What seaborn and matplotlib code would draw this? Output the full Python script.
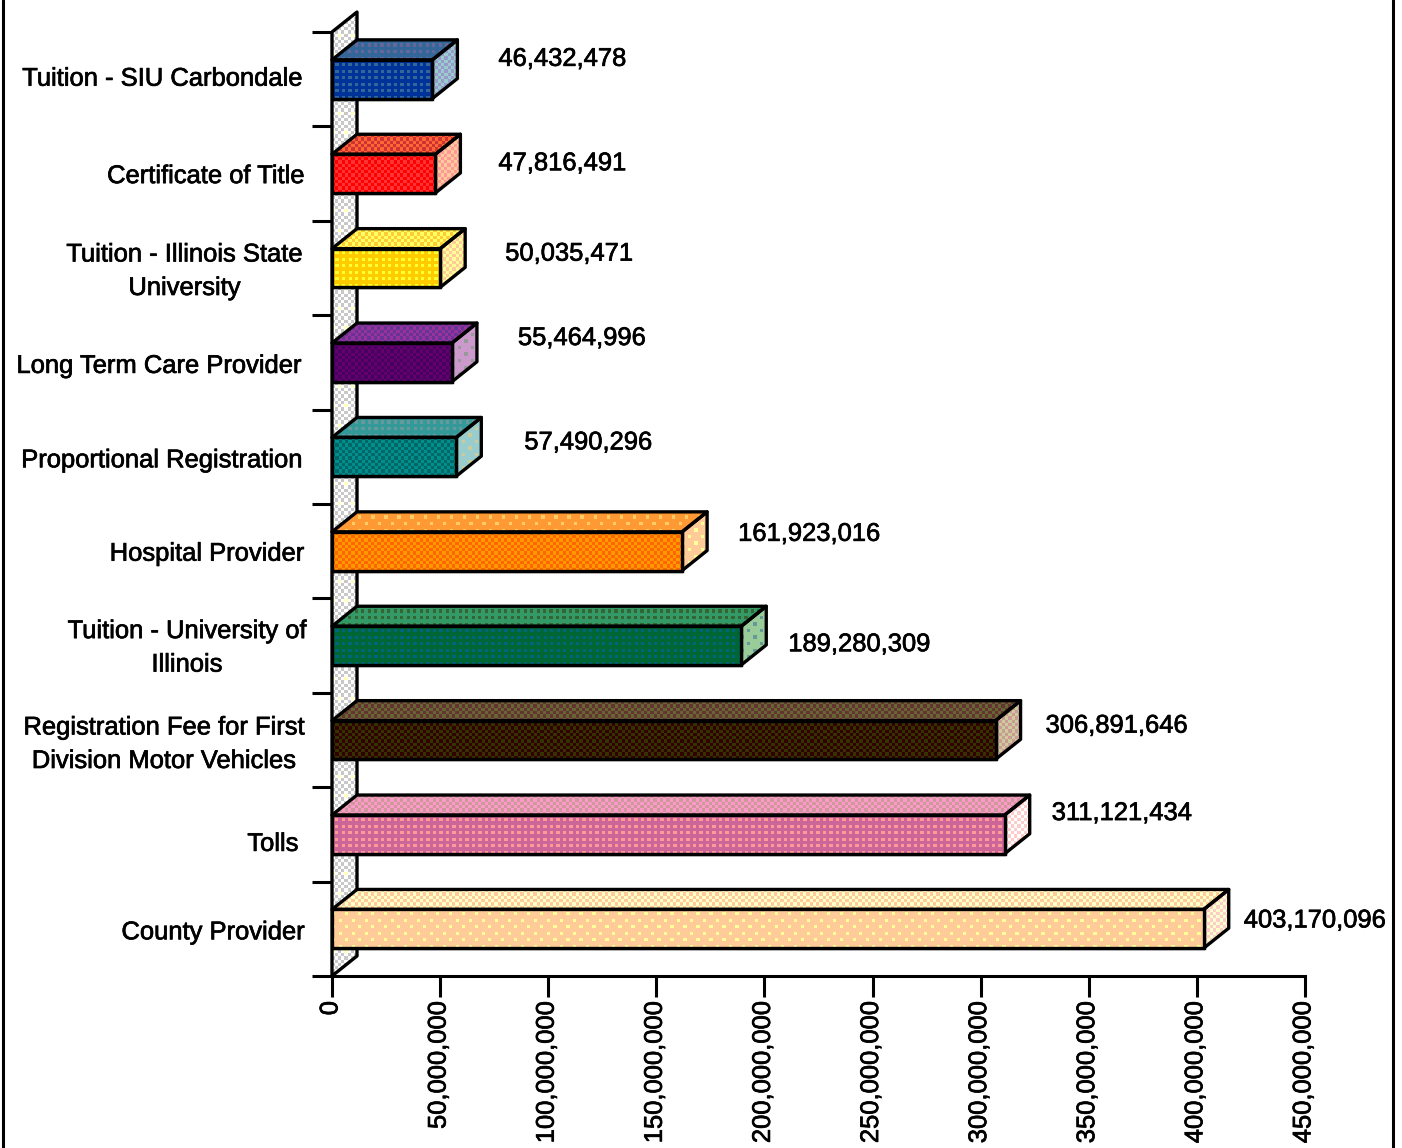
import numpy as np
import pandas as pd
import matplotlib
matplotlib.use("Agg")
import matplotlib.pyplot as plt
import matplotlib.patheffects as pe
from matplotlib.colors import to_rgb
from matplotlib.lines import Line2D
from matplotlib.patches import Polygon
from matplotlib.transforms import ScaledTranslation
import seaborn as sns

# Revenue sources and amounts, largest at the bottom
categories = [
    "Tuition - SIU Carbondale", "Certificate of Title",
    "Tuition - Illinois State\nUniversity", "Long Term Care Provider",
    "Proportional Registration", "Hospital Provider",
    "Tuition - University of\nIllinois",
    "Registration Fee for First\nDivision Motor Vehicles", "Tolls", "County Provider",
]
amounts = [46432478, 47816491, 50035471, 55464996, 57490296,
           161923016, 189280309, 306891646, 311121434, 403170096]
x_ticks = list(range(0, 450000001, 50000000))

# Shades and dither kinds for the front, top and end faces of each bar
front = ["#003399", "#ff0000", "#ffcc00", "#660066", "#006666",
         "#ff6600", "#006633", "#330000", "#cc6699", "#ffcc99"]
front_dot = ["#336699", "#ff3333", "#ffff33", "#440066", "#008f8f",
             "#ff9900", "#006680", "#333300", "#ff9999", "#ffff99"]
front_kind = ["grid", "check", "grid", "check", "check",
              "check", "grid", "check", "grid", "dots"]
top_a = ["#336699", "#ff6633", "#ffcc33", "#663399", "#339999",
         "#ff9933", "#339966", "#663333", "#ff99cc", "#ffcc99"]
top_b = ["#666699", "#cc3333", "#ffff66", "#993399", "#669999",
         "#ffcc66", "#336633", "#666633", "#cc9999", "#ffffcc"]
top_kind = ["grid", "check", "check", "check", "grid",
            "dots", "grid", "check", "check", "check"]
side_a = ["#9999cc", "#ff9999", "#ffff99", "#cc99cc", "#99cccc",
          "#ffcc99", "#99cc99", "#cc9999", "#ffcccc", "#ffcccc"]
side_b = ["#99cccc", "#ffcc99", "#ffcc99", "#999999", "#cccc99",
          "#ffff99", "#669999", "#cccc99", "#ffffff", "#ffffcc"]
side_kind = ["check", "check", "check", "dots", "dots",
             "dots", "dots", "check", "check", "check"]

# Pixel nudges for the value labels and category labels
label_shift = [(66, 1), (63, -9), (65, -5), (66, 5), (68, -5),
               (56, -2), (47, -18), (50, -5), (47, 2), (40, -11)]
cat_nudge = [(1, -3), (3, 0), (1, -4), (0, 1), (1, 1),
             (3, 0), (5, -5), (3, -3), (-3, 7), (3, 1)]

W, H = 1402, 1148
LEFT, RIGHT, TOP, BOTTOM = 332, 1305, 32, 976
XMAX = 450000000
X_PER_PX = XMAX / (RIGHT - LEFT)
Y_PER_PX = len(categories) / (BOTTOM - TOP)
DEPTH_X = 25 * X_PER_PX
DEPTH_Y = 20 * Y_PER_PX
BLOCK = 3.25
LW = 2.4
FONT = 18.4
HEAVY = [pe.withStroke(linewidth=0.5, foreground="black")]

sns.set_theme(style="white")
plt.rcParams["font.family"] = ["Liberation Sans", "DejaVu Sans"]

fig = plt.figure(figsize=(W / 100, H / 100), dpi=100, facecolor="white")
ax = fig.add_axes([LEFT / W, 1 - BOTTOM / H, (RIGHT - LEFT) / W, (BOTTOM - TOP) / H])

df = pd.DataFrame({"source": categories, "amount": amounts})
sns.barplot(data=df, y="source", x="amount", hue="source", palette=front, dodge=False,
            orient="h", width=0.41, saturation=1, legend=False, ax=ax,
            edgecolor="black", linewidth=LW, zorder=5)


def dither(poly, c1, c2, kind, z):
    """Paint a blocky dither over a polygon, clipped to its outline."""
    pts = np.asarray(poly.get_xy())
    x0, x1 = pts[:, 0].min(), pts[:, 0].max()
    y0, y1 = pts[:, 1].min(), pts[:, 1].max()
    nx = max(2, int(round((x1 - x0) / X_PER_PX / BLOCK)))
    ny = max(2, int(round((y1 - y0) / Y_PER_PX / BLOCK)))
    rr, cc = np.mgrid[0:ny, 0:nx]
    if kind == "dots":
        mask = (rr % 2 == 1) & ((cc + 2 * ((rr // 2) % 2)) % 4 == 0)
    elif kind == "grid":
        mask = (rr % 2 == 1) & (cc % 2 == 1)
    else:
        mask = (rr + cc) % 2 == 0
    tile = np.where(mask[..., None], np.array(to_rgb(c2)), np.array(to_rgb(c1)))
    if kind == "wall":
        accent = (rr % 6 == 1) & ((cc + 2 * (rr % 12 == 7)) % 4 == 0)
        tile[accent] = to_rgb("#ffffbb")
    im = ax.imshow(tile, extent=(x0, x1, y1, y0), aspect="auto",
                   interpolation="nearest", zorder=z)
    im.set_clip_path(poly)
    im.set_clip_box(fig.bbox)


def facet(points, c1, c2, kind, z):
    fill = Polygon(points, closed=True, facecolor=c1, edgecolor="none",
                   transform=ax.transData, clip_on=False, zorder=z)
    ax.add_patch(fill)
    dither(fill, c1, c2, kind, z + 0.1)
    ax.add_patch(Polygon(points, closed=True, fill=False, edgecolor="black", linewidth=LW,
                         joinstyle="round", clip_on=False, zorder=z + 0.2))


# Back wall behind the bars
n = len(categories)
facet([(0, n - 0.5), (DEPTH_X, n - 0.5 - DEPTH_Y), (DEPTH_X, -0.5 - DEPTH_Y), (0, -0.5)],
      "#c8c8c8", "#ffffff", "wall", 1)

# Top and end faces, then the dither on the front faces
for i, bar in enumerate(ax.patches[:n]):
    w = bar.get_width()
    y_top, y_bot = bar.get_y(), bar.get_y() + bar.get_height()
    facet([(0, y_top), (w, y_top), (w + DEPTH_X, y_top - DEPTH_Y), (DEPTH_X, y_top - DEPTH_Y)],
          top_a[i], top_b[i], top_kind[i], 3)
    facet([(w, y_top), (w + DEPTH_X, y_top - DEPTH_Y), (w + DEPTH_X, y_bot - DEPTH_Y), (w, y_bot)],
          side_a[i], side_b[i], side_kind[i], 3)
    rect = Polygon([(0, y_top), (w, y_top), (w, y_bot), (0, y_bot)], closed=True,
                   facecolor="none", edgecolor="none", transform=ax.transData)
    ax.add_patch(rect)
    dither(rect, front[i], front_dot[i], front_kind[i], 5.1)
    ax.add_patch(Polygon(rect.get_xy(), closed=True, fill=False, edgecolor="black",
                         linewidth=LW, joinstyle="round", zorder=5.2))
    dx, dy = label_shift[i]
    ax.annotate(f"{amounts[i]:,}", xy=(w, y_top), xytext=(dx * 0.72, dy * 0.72),
                textcoords="offset points", ha="left", va="center",
                fontsize=FONT, color="black", annotation_clip=False, zorder=6,
                path_effects=HEAVY)

ax.set_xlim(0, XMAX)
ax.set_ylim(n - 0.5, -0.5)
ax.set_xlabel("")
ax.set_ylabel("")
ax.grid(False)
ax.set_facecolor("white")

for side in ("top", "right", "left"):
    ax.spines[side].set_visible(False)
ax.spines["bottom"].set_color("black")
ax.spines["bottom"].set_linewidth(2.2)

# Category ticks sit on the band edges; labels stay centred in each band
ax.set_yticks(range(n))
ax.set_yticklabels(categories, multialignment="center", fontsize=FONT, color="black",
                   linespacing=1.5, path_effects=HEAVY)
ax.set_yticks(np.arange(-0.5, n), minor=True)
ax.tick_params(axis="y", which="major", length=0, pad=22)
ax.tick_params(axis="y", which="minor", length=14.5, width=2.2, color="black", left=True)
ax.set_xticks(x_ticks)
ax.set_xticklabels([f"{v:,}" for v in x_ticks], rotation=90, fontsize=FONT, color="black",
                   path_effects=HEAVY)
ax.tick_params(axis="x", which="major", length=15, width=2.2, color="black",
               bottom=True, pad=3)

# Label nudges go last: changing tick padding rebuilds the label transforms
for lab, (nx_px, ny_px) in zip(ax.get_yticklabels(), cat_nudge):
    lab.set_transform(lab.get_transform() + ScaledTranslation(nx_px / 100, -ny_px / 100,
                                                              fig.dpi_scale_trans))
for lab in ax.get_xticklabels():
    lab.set_transform(lab.get_transform() + ScaledTranslation(-1.5 / 100, 0, fig.dpi_scale_trans))

# Thin page rules either side of the chart
for px in (2.5, 1392.5):
    fig.add_artist(Line2D([px / W, px / W], [0, 1], color="black", linewidth=2.2,
                          transform=fig.transFigure))

fig.savefig("out.png", dpi=100, facecolor="white")
